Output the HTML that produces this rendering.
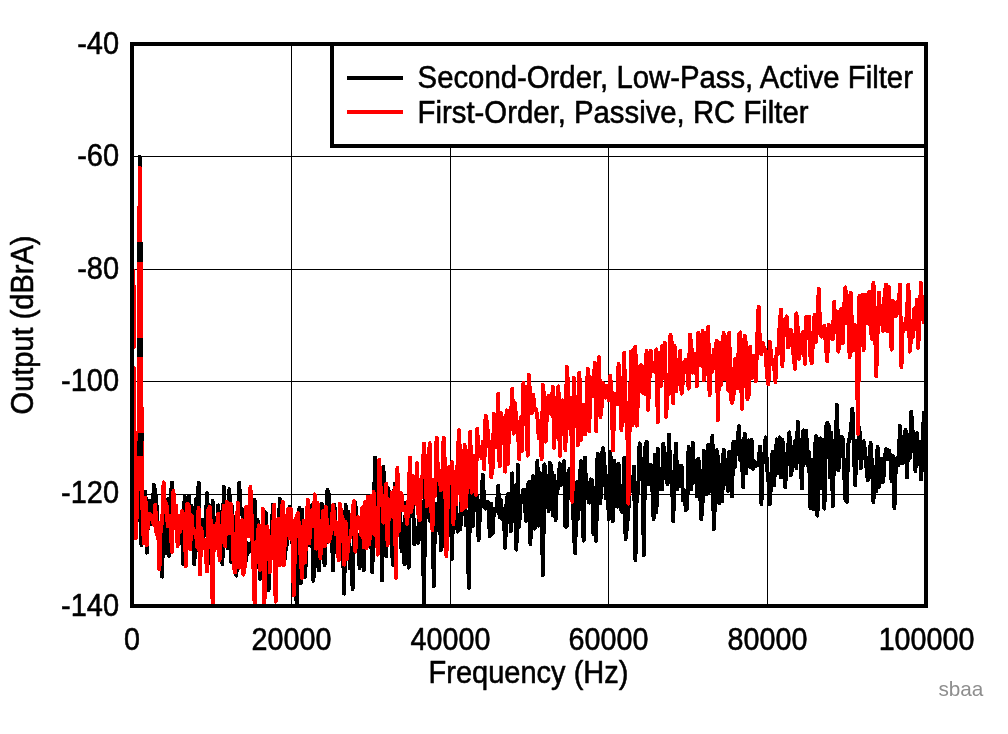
<!DOCTYPE html>
<html lang="en">
<head>
<meta charset="utf-8">
<title>Output vs Frequency</title>
<style>
html,body{margin:0;padding:0;background:#fff;}
body{width:1008px;height:734px;overflow:hidden;}
svg{display:block;}
text{font-family:"Liberation Sans",Arial,sans-serif;fill:#000;}
.t{font-size:30px;stroke:#000;stroke-width:0.55px;stroke-linejoin:round;}
</style>
</head>
<body>
<svg width="1008" height="734" viewBox="0 0 1008 734">
<rect x="0" y="0" width="1008" height="734" fill="#fff"/>
<!-- grid -->
<g fill="#000" shape-rendering="crispEdges">
<rect x="291" y="44" width="1" height="562"/>
<rect x="450" y="44" width="1" height="562"/>
<rect x="608" y="44" width="1" height="562"/>
<rect x="767" y="44" width="1" height="562"/>
<rect x="132" y="156" width="794" height="1"/>
<rect x="132" y="269" width="794" height="1"/>
<rect x="132" y="381" width="794" height="1"/>
<rect x="132" y="494" width="794" height="1"/>
</g>
<!-- traces -->
<clipPath id="plotclip"><rect x="132" y="44" width="794" height="562"/></clipPath>
<g clip-path="url(#plotclip)" shape-rendering="crispEdges" fill="none" stroke-width="4" stroke-linejoin="round" stroke-linecap="round">
<path stroke="#000" d="M134.6,442.0 L135.0,463.0 L137.5,500.0 L139.4,520.0 L139.9,157.0 L140.6,430.0 L141.5,545.0 L143.0,520.0 L144.0,500.4 L145.4,492.0 L146.8,552.7 L148.2,506.8 L149.6,501.0 L151.0,523.6 L152.4,524.4 L153.8,485.0 L155.2,490.7 L156.6,506.2 L158.0,536.3 L159.4,523.3 L160.8,545.9 L162.2,576.7 L163.6,496.0 L165.0,519.3 L166.4,553.5 L167.8,499.1 L169.2,555.8 L170.6,499.4 L172.0,482.5 L173.4,518.8 L174.8,513.7 L176.2,522.4 L177.6,527.2 L179.0,534.8 L180.4,541.0 L181.8,524.2 L183.2,564.0 L184.6,497.0 L186.0,497.9 L187.4,536.4 L188.8,495.8 L190.2,537.3 L191.6,506.0 L193.0,536.1 L194.4,564.2 L195.8,499.2 L197.2,549.9 L198.6,482.5 L200.0,568.0 L201.4,536.3 L202.8,519.6 L204.2,535.6 L205.6,525.7 L207.0,493.3 L208.4,544.8 L209.8,505.4 L211.2,563.7 L212.6,501.1 L214.0,548.0 L215.4,517.7 L216.8,546.4 L218.2,505.4 L219.6,550.7 L221.0,512.1 L222.4,564.0 L223.8,487.0 L225.2,526.8 L226.6,508.6 L228.0,548.3 L229.4,489.2 L230.8,561.8 L232.2,506.4 L233.6,547.2 L235.0,531.9 L236.4,575.6 L237.8,530.2 L239.2,482.5 L240.6,511.6 L242.0,509.4 L243.4,526.2 L244.8,544.4 L246.2,560.0 L247.6,543.4 L249.0,551.7 L250.4,543.8 L251.8,545.8 L253.2,535.4 L254.6,500.0 L256.0,567.3 L257.4,519.9 L258.8,529.5 L260.2,578.8 L261.6,527.9 L263.0,559.7 L264.4,546.3 L265.8,512.4 L267.2,572.4 L268.6,590.0 L270.0,534.7 L271.4,549.9 L272.8,504.8 L274.2,520.6 L275.6,537.1 L277.0,538.3 L278.4,549.5 L279.8,498.5 L281.2,529.3 L282.6,553.9 L284.0,564.0 L285.4,551.7 L286.8,543.9 L288.2,524.4 L289.6,506.8 L291.0,529.7 L292.4,543.2 L293.8,545.2 L295.2,564.8 L296.6,603.8 L298.0,551.2 L299.4,508.0 L300.8,583.0 L302.2,509.5 L303.6,573.9 L305.0,576.7 L306.4,549.6 L307.8,520.8 L309.2,540.5 L310.6,545.7 L312.0,505.0 L313.4,580.8 L314.8,543.3 L316.2,566.5 L317.6,526.4 L319.0,570.5 L320.4,511.0 L321.8,504.0 L323.2,543.8 L324.6,565.0 L326.0,532.8 L327.4,490.0 L328.8,494.3 L330.2,528.9 L331.6,521.2 L333.0,570.5 L334.4,505.0 L335.8,525.9 L337.2,552.6 L338.6,531.2 L340.0,531.7 L341.4,539.2 L342.8,541.8 L344.2,593.6 L345.6,505.0 L347.0,535.9 L348.4,511.8 L349.8,568.3 L351.2,547.5 L352.6,589.0 L354.0,529.0 L355.4,503.0 L356.8,544.3 L358.2,534.5 L359.6,568.1 L361.0,525.1 L362.4,523.6 L363.8,570.0 L365.2,502.0 L366.6,523.4 L368.0,507.5 L369.4,546.6 L370.8,498.0 L372.2,572.3 L373.6,525.9 L375.0,457.8 L376.4,522.4 L377.8,492.2 L379.2,488.0 L380.6,490.8 L382.0,580.6 L383.4,466.5 L384.8,529.3 L386.2,556.3 L387.6,488.0 L389.0,491.4 L390.4,504.4 L391.8,550.4 L393.2,564.7 L394.6,484.0 L396.0,515.6 L397.4,509.1 L398.8,500.3 L400.2,514.0 L401.6,551.4 L403.0,525.7 L404.4,564.1 L405.8,503.0 L407.2,523.7 L408.6,567.6 L410.0,478.0 L411.4,487.3 L412.8,489.5 L414.2,544.4 L415.6,541.3 L417.0,528.1 L418.4,542.9 L419.8,513.1 L421.2,501.6 L422.6,522.6 L424.0,604.0 L425.4,476.0 L426.8,485.2 L428.2,492.5 L429.6,520.6 L431.0,513.5 L432.4,502.4 L433.8,586.0 L435.2,503.7 L436.6,525.5 L438.0,530.0 L439.4,474.0 L440.8,550.0 L442.2,536.5 L443.6,488.3 L445.0,546.8 L446.4,507.4 L447.8,536.2 L449.2,522.1 L450.6,479.3 L452.0,559.0 L453.4,490.4 L454.8,478.0 L456.2,508.3 L457.6,531.8 L459.0,525.2 L460.4,529.2 L461.8,481.1 L463.2,514.5 L464.6,481.4 L466.0,525.4 L467.4,517.7 L468.8,587.9 L470.2,480.0 L471.6,510.7 L473.0,526.1 L474.4,488.9 L475.8,500.8 L477.2,496.8 L478.6,540.0 L480.0,512.4 L481.4,500.9 L482.8,475.0 L484.2,505.2 L485.6,508.6 L487.0,501.5 L488.4,502.5 L489.8,536.0 L491.2,504.0 L492.6,533.7 L494.0,508.4 L495.4,511.7 L496.8,507.8 L498.2,486.0 L499.6,516.9 L501.0,500.0 L502.4,519.3 L503.8,512.8 L505.2,547.9 L506.6,500.9 L508.0,494.3 L509.4,494.0 L510.8,531.4 L512.2,473.3 L513.6,521.5 L515.0,488.1 L516.4,549.6 L517.8,464.7 L519.2,526.9 L520.6,497.1 L522.0,502.3 L523.4,489.8 L524.8,504.0 L526.2,520.8 L527.6,486.5 L529.0,481.9 L530.4,544.0 L531.8,483.7 L533.2,476.0 L534.6,528.7 L536.0,494.2 L537.4,461.0 L538.8,525.7 L540.2,473.2 L541.6,516.9 L543.0,575.0 L544.4,464.3 L545.8,476.9 L547.2,483.2 L548.6,511.0 L550.0,463.0 L551.4,466.9 L552.8,515.2 L554.2,475.6 L555.6,520.0 L557.0,481.8 L558.4,488.1 L559.8,463.4 L561.2,484.8 L562.6,473.0 L564.0,461.0 L565.4,526.6 L566.8,526.6 L568.2,473.5 L569.6,468.6 L571.0,494.8 L572.4,475.7 L573.8,531.5 L575.2,553.0 L576.6,482.2 L578.0,519.0 L579.4,498.5 L580.8,461.2 L582.2,497.7 L583.6,540.8 L585.0,457.6 L586.4,498.4 L587.8,487.7 L589.2,502.6 L590.6,479.5 L592.0,480.0 L593.4,534.1 L594.8,488.2 L596.2,540.8 L597.6,453.5 L599.0,500.3 L600.4,503.0 L601.8,454.7 L603.2,448.0 L604.6,465.8 L606.0,498.4 L607.4,476.4 L608.8,519.5 L610.2,452.0 L611.6,471.5 L613.0,521.0 L614.4,461.0 L615.8,480.6 L617.2,506.6 L618.6,464.1 L620.0,494.1 L621.4,510.4 L622.8,512.4 L624.2,457.6 L625.6,539.0 L627.0,526.9 L628.4,510.4 L629.8,483.5 L631.2,484.2 L632.6,490.9 L634.0,466.6 L635.4,560.0 L636.8,488.2 L638.2,492.4 L639.6,443.4 L641.0,475.9 L642.4,459.4 L643.8,555.0 L645.2,448.2 L646.6,441.6 L648.0,484.5 L649.4,480.1 L650.8,464.6 L652.2,484.6 L653.6,519.0 L655.0,454.9 L656.4,512.5 L657.8,448.7 L659.2,485.3 L660.6,489.1 L662.0,489.2 L663.4,443.5 L664.8,473.8 L666.2,478.4 L667.6,483.9 L669.0,434.6 L670.4,477.3 L671.8,471.5 L673.2,521.0 L674.6,473.7 L676.0,443.4 L677.4,489.2 L678.8,468.2 L680.2,466.3 L681.6,466.1 L683.0,500.0 L684.4,490.5 L685.8,510.0 L687.2,509.0 L688.6,447.0 L690.0,472.4 L691.4,489.0 L692.8,443.0 L694.2,481.0 L695.6,460.9 L697.0,496.4 L698.4,458.5 L699.8,481.7 L701.2,519.5 L702.6,502.0 L704.0,450.9 L705.4,464.8 L706.8,494.2 L708.2,444.6 L709.6,491.8 L711.0,454.2 L712.4,436.0 L713.8,529.0 L715.2,496.1 L716.6,450.2 L718.0,457.6 L719.4,503.5 L720.8,465.0 L722.2,501.4 L723.6,449.8 L725.0,463.2 L726.4,465.8 L727.8,490.8 L729.2,451.7 L730.6,472.7 L732.0,496.6 L733.4,442.0 L734.8,467.0 L736.2,446.4 L737.6,440.0 L739.0,426.0 L740.4,460.3 L741.8,456.6 L743.2,487.0 L744.6,433.7 L746.0,473.6 L747.4,453.1 L748.8,440.4 L750.2,467.1 L751.6,440.0 L753.0,468.9 L754.4,461.2 L755.8,466.4 L757.2,462.7 L758.6,463.2 L760.0,446.4 L761.4,504.0 L762.8,454.4 L764.2,460.3 L765.6,437.5 L767.0,467.4 L768.4,479.5 L769.8,504.0 L771.2,479.8 L772.6,451.6 L774.0,485.5 L775.4,461.4 L776.8,439.3 L778.2,473.5 L779.6,437.5 L781.0,477.3 L782.4,439.5 L783.8,464.9 L785.2,487.0 L786.6,458.5 L788.0,449.4 L789.4,432.3 L790.8,475.3 L792.2,469.1 L793.6,452.9 L795.0,441.2 L796.4,467.9 L797.8,422.0 L799.2,452.5 L800.6,461.6 L802.0,488.2 L803.4,430.3 L804.8,463.3 L806.2,430.7 L807.6,464.9 L809.0,452.2 L810.4,508.0 L811.8,460.2 L813.2,509.1 L814.6,454.0 L816.0,436.0 L817.4,515.7 L818.8,453.8 L820.2,438.4 L821.6,488.4 L823.0,439.7 L824.4,508.7 L825.8,426.9 L827.2,423.0 L828.6,425.8 L830.0,477.0 L831.4,433.0 L832.8,506.0 L834.2,448.2 L835.6,449.2 L837.0,405.0 L838.4,470.4 L839.8,454.2 L841.2,436.9 L842.6,438.1 L844.0,467.9 L845.4,499.7 L846.8,502.0 L848.2,444.3 L849.6,437.9 L851.0,429.4 L852.4,408.9 L853.8,448.7 L855.2,485.0 L856.6,440.8 L858.0,445.8 L859.4,427.9 L860.8,468.1 L862.2,452.9 L863.6,441.2 L865.0,450.5 L866.4,466.8 L867.8,480.2 L869.2,472.1 L870.6,443.0 L872.0,465.3 L873.4,502.0 L874.8,466.7 L876.2,491.5 L877.6,447.0 L879.0,487.0 L880.4,477.4 L881.8,458.7 L883.2,481.8 L884.6,459.7 L886.0,449.0 L887.4,459.4 L888.8,450.4 L890.2,455.4 L891.6,481.4 L893.0,456.0 L894.4,508.0 L895.8,464.5 L897.2,458.1 L898.6,464.9 L900.0,426.0 L901.4,449.7 L902.8,463.5 L904.2,437.3 L905.6,430.1 L907.0,477.6 L908.4,435.3 L909.8,457.8 L911.2,412.0 L912.6,431.0 L914.0,441.9 L915.4,470.9 L916.8,433.2 L918.2,450.2 L919.6,441.8 L921.0,479.5 L922.4,458.1 L923.8,412.7"/>
<path stroke="#f00" d="M134.0,368.0 L134.6,442.0 L135.8,538.0 L138.6,462.0 L139.1,300.0 L139.7,167.5 L141.1,300.0 L141.7,455.0 L142.0,490.0 L143.0,528.0 L144.0,543.6 L145.4,497.5 L146.8,545.0 L148.2,513.9 L149.6,514.0 L151.0,518.8 L152.4,518.9 L153.8,524.7 L155.2,505.0 L156.6,534.6 L158.0,522.8 L159.4,569.4 L160.8,523.6 L162.2,523.6 L163.6,482.5 L165.0,509.5 L166.4,503.3 L167.8,526.0 L169.2,515.9 L170.6,526.3 L172.0,552.0 L173.4,491.0 L174.8,517.2 L176.2,505.9 L177.6,545.9 L179.0,515.6 L180.4,531.8 L181.8,511.2 L183.2,514.1 L184.6,526.1 L186.0,566.0 L187.4,503.8 L188.8,506.2 L190.2,549.2 L191.6,515.3 L193.0,533.6 L194.4,531.2 L195.8,531.3 L197.2,547.1 L198.6,508.0 L200.0,574.6 L201.4,528.2 L202.8,548.1 L204.2,540.0 L205.6,550.4 L207.0,571.5 L208.4,509.9 L209.8,507.0 L211.2,529.4 L212.6,603.8 L214.0,525.4 L215.4,548.6 L216.8,530.0 L218.2,513.5 L219.6,560.0 L221.0,535.5 L222.4,534.0 L223.8,505.6 L225.2,546.2 L226.6,501.7 L228.0,503.8 L229.4,533.1 L230.8,504.1 L232.2,523.3 L233.6,563.3 L235.0,572.5 L236.4,541.9 L237.8,502.7 L239.2,567.7 L240.6,530.4 L242.0,520.0 L243.4,574.6 L244.8,566.1 L246.2,506.9 L247.6,507.2 L249.0,536.4 L250.4,487.0 L251.8,521.3 L253.2,559.1 L254.6,603.8 L256.0,543.1 L257.4,541.3 L258.8,525.3 L260.2,570.0 L261.6,568.5 L263.0,509.0 L264.4,603.8 L265.8,541.2 L267.2,526.4 L268.6,539.5 L270.0,572.0 L271.4,538.9 L272.8,534.8 L274.2,504.8 L275.6,601.7 L277.0,520.5 L278.4,518.8 L279.8,565.2 L281.2,534.1 L282.6,501.7 L284.0,565.0 L285.4,516.4 L286.8,529.9 L288.2,509.2 L289.6,538.4 L291.0,509.0 L292.4,536.3 L293.8,595.4 L295.2,534.5 L296.6,516.4 L298.0,513.0 L299.4,535.9 L300.8,559.5 L302.2,577.7 L303.6,521.0 L305.0,562.2 L306.4,532.5 L307.8,499.6 L309.2,543.3 L310.6,524.7 L312.0,510.4 L313.4,526.4 L314.8,494.4 L316.2,548.7 L317.6,502.8 L319.0,539.2 L320.4,558.0 L321.8,527.7 L323.2,510.9 L324.6,546.3 L326.0,507.0 L327.4,538.1 L328.8,541.6 L330.2,537.9 L331.6,524.7 L333.0,505.0 L334.4,518.5 L335.8,534.4 L337.2,522.7 L338.6,560.4 L340.0,504.0 L341.4,514.5 L342.8,519.8 L344.2,564.7 L345.6,521.8 L347.0,558.9 L348.4,543.0 L349.8,538.1 L351.2,534.0 L352.6,511.3 L354.0,501.0 L355.4,551.7 L356.8,523.2 L358.2,517.2 L359.6,520.2 L361.0,534.8 L362.4,507.4 L363.8,547.2 L365.2,501.6 L366.6,548.0 L368.0,496.8 L369.4,544.0 L370.8,496.4 L372.2,532.9 L373.6,492.0 L375.0,534.9 L376.4,524.6 L377.8,554.6 L379.2,460.0 L380.6,488.0 L382.0,497.2 L383.4,522.7 L384.8,504.0 L386.2,483.8 L387.6,545.0 L389.0,508.9 L390.4,516.5 L391.8,493.0 L393.2,516.8 L394.6,488.0 L396.0,577.7 L397.4,468.0 L398.8,531.3 L400.2,492.9 L401.6,494.2 L403.0,510.5 L404.4,506.7 L405.8,512.2 L407.2,524.0 L408.6,498.6 L410.0,457.8 L411.4,511.8 L412.8,476.2 L414.2,496.3 L415.6,503.5 L417.0,463.2 L418.4,514.4 L419.8,520.0 L421.2,479.3 L422.6,474.6 L424.0,443.4 L425.4,473.4 L426.8,506.3 L428.2,499.7 L429.6,443.2 L431.0,503.4 L432.4,530.0 L433.8,479.9 L435.2,495.6 L436.6,437.6 L438.0,474.5 L439.4,470.7 L440.8,490.0 L442.2,483.8 L443.6,437.6 L445.0,467.1 L446.4,556.0 L447.8,496.8 L449.2,466.9 L450.6,481.3 L452.0,462.0 L453.4,524.0 L454.8,472.1 L456.2,504.2 L457.6,462.2 L459.0,430.3 L460.4,468.4 L461.8,510.1 L463.2,508.5 L464.6,444.9 L466.0,507.0 L467.4,472.3 L468.8,467.7 L470.2,431.6 L471.6,492.8 L473.0,455.7 L474.4,457.9 L475.8,494.8 L477.2,429.0 L478.6,454.8 L480.0,450.6 L481.4,457.8 L482.8,442.1 L484.2,469.3 L485.6,415.9 L487.0,422.9 L488.4,439.7 L489.8,449.6 L491.2,477.0 L492.6,468.7 L494.0,414.0 L495.4,447.0 L496.8,440.6 L498.2,393.8 L499.6,466.2 L501.0,413.2 L502.4,420.5 L503.8,417.7 L505.2,471.7 L506.6,410.4 L508.0,463.9 L509.4,410.7 L510.8,425.0 L512.2,389.0 L513.6,433.6 L515.0,403.3 L516.4,424.1 L517.8,424.9 L519.2,459.0 L520.6,417.3 L522.0,450.8 L523.4,383.0 L524.8,414.7 L526.2,386.5 L527.6,455.8 L529.0,375.0 L530.4,404.5 L531.8,413.4 L533.2,394.8 L534.6,410.3 L536.0,408.8 L537.4,417.4 L538.8,438.5 L540.2,420.8 L541.6,459.0 L543.0,385.0 L544.4,401.5 L545.8,441.6 L547.2,404.4 L548.6,395.6 L550.0,410.4 L551.4,414.2 L552.8,386.8 L554.2,447.8 L555.6,397.9 L557.0,437.5 L558.4,386.4 L559.8,455.8 L561.2,416.3 L562.6,400.5 L564.0,423.4 L565.4,450.0 L566.8,367.0 L568.2,386.3 L569.6,428.8 L571.0,398.2 L572.4,501.8 L573.8,378.0 L575.2,417.2 L576.6,397.1 L578.0,445.0 L579.4,372.6 L580.8,439.8 L582.2,410.8 L583.6,405.0 L585.0,434.6 L586.4,405.8 L587.8,368.6 L589.2,431.2 L590.6,377.3 L592.0,387.7 L593.4,396.2 L594.8,362.6 L596.2,431.0 L597.6,370.7 L599.0,357.0 L600.4,416.9 L601.8,405.4 L603.2,383.1 L604.6,388.4 L606.0,397.6 L607.4,386.0 L608.8,400.4 L610.2,376.0 L611.6,392.2 L613.0,450.5 L614.4,397.4 L615.8,394.0 L617.2,404.4 L618.6,363.9 L620.0,382.3 L621.4,430.0 L622.8,400.4 L624.2,353.0 L625.6,421.1 L627.0,402.6 L628.4,503.6 L629.8,414.2 L631.2,351.3 L632.6,425.0 L634.0,349.8 L635.4,347.0 L636.8,425.7 L638.2,390.6 L639.6,367.8 L641.0,364.9 L642.4,392.7 L643.8,366.5 L645.2,393.9 L646.6,351.0 L648.0,409.8 L649.4,380.4 L650.8,351.1 L652.2,370.9 L653.6,369.4 L655.0,372.0 L656.4,349.5 L657.8,422.0 L659.2,353.2 L660.6,386.3 L662.0,346.1 L663.4,367.4 L664.8,342.5 L666.2,416.9 L667.6,385.6 L669.0,394.1 L670.4,335.0 L671.8,342.8 L673.2,403.4 L674.6,345.8 L676.0,391.5 L677.4,376.4 L678.8,364.6 L680.2,351.0 L681.6,393.8 L683.0,380.6 L684.4,361.8 L685.8,359.7 L687.2,364.0 L688.6,388.5 L690.0,334.4 L691.4,346.2 L692.8,372.6 L694.2,368.1 L695.6,354.1 L697.0,386.0 L698.4,332.5 L699.8,346.2 L701.2,365.6 L702.6,331.0 L704.0,380.0 L705.4,367.5 L706.8,336.1 L708.2,326.8 L709.6,395.0 L711.0,361.4 L712.4,371.6 L713.8,350.0 L715.2,362.9 L716.6,340.6 L718.0,420.0 L719.4,342.5 L720.8,385.2 L722.2,365.4 L723.6,332.9 L725.0,379.2 L726.4,336.9 L727.8,389.6 L729.2,332.5 L730.6,396.7 L732.0,403.0 L733.4,398.0 L734.8,359.1 L736.2,368.1 L737.6,387.9 L739.0,334.7 L740.4,332.5 L741.8,408.9 L743.2,368.2 L744.6,335.8 L746.0,344.8 L747.4,399.0 L748.8,395.0 L750.2,346.8 L751.6,378.2 L753.0,355.5 L754.4,361.3 L755.8,381.4 L757.2,339.5 L758.6,306.6 L760.0,347.6 L761.4,354.2 L762.8,343.3 L764.2,348.3 L765.6,350.9 L767.0,376.1 L768.4,384.0 L769.8,342.0 L771.2,356.1 L772.6,364.1 L774.0,364.0 L775.4,382.0 L776.8,348.6 L778.2,353.7 L779.6,326.2 L781.0,309.6 L782.4,365.9 L783.8,319.5 L785.2,331.9 L786.6,316.4 L788.0,347.6 L789.4,345.5 L790.8,329.5 L792.2,336.3 L793.6,356.0 L795.0,368.8 L796.4,313.4 L797.8,328.7 L799.2,358.9 L800.6,343.1 L802.0,334.5 L803.4,331.8 L804.8,363.9 L806.2,317.0 L807.6,334.5 L809.0,316.9 L810.4,355.8 L811.8,363.0 L813.2,336.4 L814.6,314.7 L816.0,341.8 L817.4,320.9 L818.8,288.6 L820.2,333.6 L821.6,336.5 L823.0,328.5 L824.4,325.7 L825.8,343.4 L827.2,361.0 L828.6,324.7 L830.0,338.4 L831.4,328.6 L832.8,339.2 L834.2,302.0 L835.6,332.2 L837.0,311.9 L838.4,351.6 L839.8,327.1 L841.2,309.0 L842.6,343.2 L844.0,311.0 L845.4,287.5 L846.8,323.2 L848.2,295.7 L849.6,357.0 L851.0,293.0 L852.4,350.8 L853.8,350.0 L855.2,325.1 L856.6,335.6 L858.0,433.7 L859.4,296.0 L860.8,325.8 L862.2,295.0 L863.6,350.0 L865.0,294.4 L866.4,323.4 L867.8,311.3 L869.2,292.0 L870.6,328.1 L872.0,339.0 L873.4,283.0 L874.8,312.0 L876.2,376.4 L877.6,331.8 L879.0,292.4 L880.4,324.5 L881.8,316.1 L883.2,330.8 L884.6,294.4 L886.0,284.8 L887.4,331.4 L888.8,286.7 L890.2,311.0 L891.6,349.7 L893.0,301.1 L894.4,310.1 L895.8,315.9 L897.2,301.6 L898.6,308.7 L900.0,284.8 L901.4,366.9 L902.8,324.0 L904.2,329.5 L905.6,328.9 L907.0,311.7 L908.4,284.8 L909.8,351.6 L911.2,336.6 L912.6,337.2 L914.0,309.2 L915.4,328.8 L916.8,299.9 L918.2,347.8 L919.6,317.7 L921.0,283.0 L922.4,316.5 L923.8,322.3"/>
<path stroke="#f00" d="M133.4,271 L134.0,347"/>
<path stroke="#000" stroke-linecap="butt" d="M140.2,242 L140.3,262 M140,338 L140.2,357 M140.8,433 L140,456" stroke-width="6"/>
</g>
<!-- frame -->
<rect x="132" y="44" width="794" height="562" fill="none" stroke="#000" stroke-width="4" shape-rendering="crispEdges"/>
<!-- legend -->
<rect x="332" y="44" width="594" height="102" fill="#fff" stroke="#000" stroke-width="4" shape-rendering="crispEdges"/>
<rect x="347" y="76" width="56" height="4" fill="#000" shape-rendering="crispEdges"/>
<rect x="347" y="110" width="56" height="4" fill="#f00" shape-rendering="crispEdges"/>
<text class="t" transform="translate(417.6,88.0) scale(0.9778,1.03)" text-anchor="start">Second-Order, Low-Pass, Active Filter</text>
<text class="t" transform="translate(417.6,123.2) scale(0.9778,1.03)" text-anchor="start">First-Order, Passive, RC Filter</text>
<text class="t" transform="translate(119.1,53.7) scale(0.9667,1.03)" text-anchor="end">-40</text>
<text class="t" transform="translate(119.1,166.1) scale(0.9667,1.03)" text-anchor="end">-60</text>
<text class="t" transform="translate(119.1,278.5) scale(0.9667,1.03)" text-anchor="end">-80</text>
<text class="t" transform="translate(119.1,390.9) scale(0.9667,1.03)" text-anchor="end">-100</text>
<text class="t" transform="translate(119.1,503.3) scale(0.9667,1.03)" text-anchor="end">-120</text>
<text class="t" transform="translate(119.1,615.7) scale(0.9667,1.03)" text-anchor="end">-140</text>
<text class="t" transform="translate(132,649.6) scale(0.957,1.03)" text-anchor="middle">0</text>
<text class="t" transform="translate(291.5,649.6) scale(0.957,1.03)" text-anchor="middle">20000</text>
<text class="t" transform="translate(450.5,649.6) scale(0.957,1.03)" text-anchor="middle">40000</text>
<text class="t" transform="translate(608.5,649.6) scale(0.957,1.03)" text-anchor="middle">60000</text>
<text class="t" transform="translate(767.5,649.6) scale(0.957,1.03)" text-anchor="middle">80000</text>
<text class="t" transform="translate(926.5,649.6) scale(0.957,1.03)" text-anchor="middle">100000</text>
<text class="t" transform="translate(528.5,683) scale(0.9667,1.03)" text-anchor="middle">Frequency (Hz)</text>
<text class="t" transform="translate(32.5,325) rotate(-90) scale(0.9667,1.03)" text-anchor="middle">Output (dBrA)</text>
<text x="938.4" y="695.8" style="font-size:21px;fill:#8e8e8e;" textLength="45" lengthAdjust="spacingAndGlyphs">sbaa</text>
</svg>
</body>
</html>
